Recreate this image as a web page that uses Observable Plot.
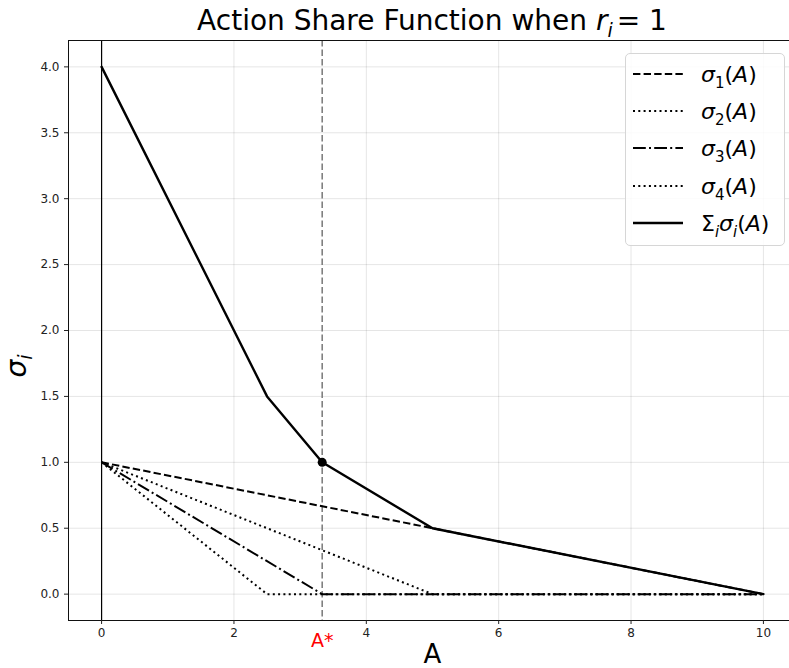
<!DOCTYPE html>
<html><head><meta charset="utf-8">
<script src="https://cdn.jsdelivr.net/npm/d3@7"></script>
<script src="https://cdn.jsdelivr.net/npm/@observablehq/plot@0.6"></script>
<style>
body{margin:0;background:#fff;overflow:hidden;font-family:"DejaVu Sans",sans-serif;}
#wrap{position:relative;width:789px;height:668px;}
#title{height:34px;padding-top:4px;padding-left:75px;box-sizing:content-box;text-align:center;font-size:28px;line-height:34px;color:#000;white-space:nowrap;}
#title .sub{font-size:19px;position:relative;top:7px;font-style:italic;margin-right:4px;}
#legend{position:absolute;left:625px;top:53px;width:158px;height:191px;border:1px solid #d6d6d6;border-radius:5px;background:rgba(255,255,255,0.85);}
.row{position:absolute;left:7px;height:30px;display:flex;align-items:center;}
.row svg{width:50px;height:10px;margin-right:18px;}
.row span.t{font-size:22px;white-space:nowrap;}
.row .s{font-size:15px;position:relative;top:6px;}
svg.plot{overflow:hidden;}
</style></head>
<body>
<div id="wrap">
<div id="title">Action Share Function when <i>r</i><span class="sub">i</span>= 1</div>
<div id="chart"></div>
<div id="legend"></div>
</div>
<script>
// ---- data ----
const aStar = 10 / 3;
const s1A = [0, 5, 10];         const s1V = [1, 0.5, 0];
const s2A = [0, 5, 10];         const s2V = [1, 0, 0];
const s3A = [0, 10 / 3, 10];    const s3V = [1, 0, 0];
const s4A = [0, 2.5, 10];       const s4V = [1, 0, 0];
const sumA = [0, 2.5, 10 / 3, 5, 10];
const sumV = [4, 1.5, 1, 0.5, 0];
const xTicks = [0, 2, 4, 6, 8, 10];
const yTicks = [0, 0.5, 1, 1.5, 2, 2.5, 3, 3.5, 4];
const seriesLabels = ["<i>σ</i><span class='s'>1</span>(<i>A</i>)", "<i>σ</i><span class='s'>2</span>(<i>A</i>)", "<i>σ</i><span class='s'>3</span>(<i>A</i>)", "<i>σ</i><span class='s'>4</span>(<i>A</i>)", "Σ<span class='s'><i>i</i></span><i>σ</i><span class='s'><i>i</i></span>(<i>A</i>)"];

const mk = (xs, ys) => xs.map((a, i) => ({A: a, v: ys[i]}));
const series = [
  {data: mk(s1A, s1V), dash: "7.4,3.2", w: 2},
  {data: mk(s2A, s2V), dash: "2,3.3", w: 2},
  {data: mk(s3A, s3V), dash: "12.8,3.2,2,3.2", w: 2},
  {data: mk(s4A, s4V), dash: "2,3.3", w: 2},
  {data: mk(sumA, sumV), dash: null, w: 2.4}
];

const chart = Plot.plot({
  width: 789, height: 630,
  marginLeft: 68, marginRight: -7, marginTop: 2, marginBottom: 48,
  style: {fontFamily: "DejaVu Sans", fontSize: "12px", color: "#222", background: "#fff"},
  x: {domain: [-0.5, 10.5]},
  y: {domain: [-0.2, 4.2]},
  marks: [
    Plot.gridX(xTicks, {stroke: "#000", strokeOpacity: 0.1}),
    Plot.gridY(yTicks, {stroke: "#000", strokeOpacity: 0.1}),
    Plot.ruleX([0], {stroke: "#000", strokeWidth: 1.2}),
    Plot.ruleX([aStar], {stroke: "#808080", strokeWidth: 1.6, strokeDasharray: "6.5,3"}),
    ...series.map(s => Plot.line(s.data, {x: "A", y: "v", stroke: "#000", strokeWidth: s.w, strokeLinecap: s.dash ? "butt" : "round", strokeDasharray: s.dash || undefined})),
    Plot.dot([{A: aStar, v: 1}], {x: "A", y: "v", r: 4.5, fill: "#000"}),
    Plot.frame({stroke: "#111", strokeWidth: 1}),
    Plot.axisX(xTicks, {tickSize: 4, tickPadding: 4, fontSize: 12, label: null, stroke: "#222"}),
    Plot.axisY(yTicks, {tickSize: 4, tickPadding: 5, fontSize: 12, label: null, tickFormat: d3.format(".1f")}),
    Plot.text([aStar], {x: d => d, frameAnchor: "bottom", dy: 26, text: () => "A*", fill: "red", fontSize: 19}),
    Plot.text(["A"], {frameAnchor: "bottom", dy: 42, text: d => d, fontSize: 26, fill: "#000"})
  ]
});
document.getElementById("chart").appendChild(chart);

// y label sigma_i
const svg = d3.select(chart);
const yl = svg.append("text")
  .attr("transform", "translate(26,328) rotate(-90)")
  .attr("text-anchor", "middle")
  .attr("font-family", "DejaVu Sans")
  .attr("font-size", 28)
  .attr("fill", "#000");
yl.append("tspan").attr("font-style", "italic").text("σ");
yl.append("tspan").attr("font-style", "italic").attr("font-size", 19).attr("dy", 6).text("i");

// legend
const leg = document.getElementById("legend");
const rowsY = [20, 57, 94, 132, 169];
series.forEach((s, i) => {
  const row = document.createElement("div");
  row.className = "row";
  row.style.top = (rowsY[i] - 15) + "px";
  row.innerHTML = `<svg viewBox="0 0 50 10"><line x1="0" y1="5" x2="50" y2="5" stroke="#000" stroke-width="${s.w}" ${s.dash ? `stroke-dasharray="${s.dash}"` : ""}/></svg><span class="t">${seriesLabels[i]}</span>`;
  leg.appendChild(row);
});
</script>
</body></html>
